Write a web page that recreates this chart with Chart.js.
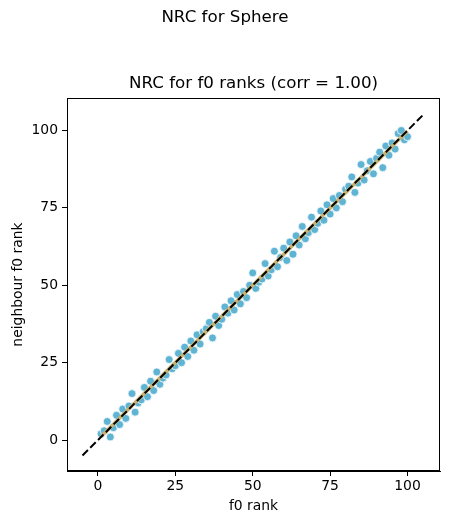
<!DOCTYPE html>
<html>
<head>
<meta charset="utf-8">
<script src="https://cdn.jsdelivr.net/npm/chart.js@4"></script>
<style>
  html, body { margin: 0; padding: 0; background: #fff; }
  #wrap { width: 449px; height: 525px; }
</style>
</head>
<body>
<div id="wrap"><canvas id="chart" width="449" height="525"></canvas></div>
<script>
// f0 rank of each sample and the rank of its neighbour
const f0Rank = Array.from({ length: 100 }, (_, i) => i + 1);
const neighbourRank = [
  2, 3, 6, 1, 4, 8, 5, 10, 7, 11,
  15, 9, 12, 13, 17, 14, 19, 16, 22, 18,
  20, 21, 26, 23, 24, 28, 25, 30, 27, 32,
  29, 34, 31, 35, 36, 38, 33, 40, 37, 39,
  43, 41, 45, 42, 47, 44, 48, 46, 50, 54,
  49, 51, 52, 57, 53, 55, 61, 56, 59, 62,
  58, 64, 60, 66, 63, 69, 65, 67, 72, 68,
  70, 74, 71, 76, 73, 78, 75, 79, 77, 81,
  82, 85, 80, 83, 89, 84, 87, 90, 86, 91,
  93, 88, 95, 92, 96, 94, 99, 100, 97, 98
];
const diagX = [-5, 105];     // dashed y = x reference
const fitX = [1, 100];       // fitted line over data range
const xTicks = [0, 25, 50, 75, 100];
const yTicks = [0, 25, 50, 75, 100];

const points = f0Rank.map((x, i) => ({ x: x, y: neighbourRank[i] }));

// least squares fit
const n = f0Rank.length;
const mx = f0Rank.reduce((a, b) => a + b, 0) / n;
const my = neighbourRank.reduce((a, b) => a + b, 0) / n;
let sxy = 0, sxx = 0;
for (let i = 0; i < n; i++) {
  sxy += (f0Rank[i] - mx) * (neighbourRank[i] - my);
  sxx += (f0Rank[i] - mx) * (f0Rank[i] - mx);
}
const slope = sxy / sxx;
const icpt = my - slope * mx;

const FONT = 'DejaVu Sans';

const textPlugin = {
  id: 'texts',
  afterDraw(chart) {
    const ctx = chart.ctx;
    const a = chart.chartArea;
    ctx.save();
    ctx.strokeStyle = '#000';
    ctx.lineWidth = 1;
    ctx.strokeRect(a.left + 0.5, a.top + 0.5, a.right - a.left - 1, a.bottom - a.top - 1);
    ctx.fillStyle = '#000';
    ctx.textAlign = 'center';
    ctx.textBaseline = 'middle';
    ctx.font = '16.7px ' + FONT;
    ctx.fillText('NRC for Sphere', 225, 18);
    ctx.fillText('NRC for f0 ranks (corr = 1.00)', (a.left + a.right) / 2, 84);
    ctx.font = '13.9px ' + FONT;
    ctx.fillText('f0 rank', (a.left + a.right) / 2, 506);
    ctx.translate(18, (a.top + a.bottom) / 2);
    ctx.rotate(-Math.PI / 2);
    ctx.fillText('neighbour f0 rank', 0, 0);
    ctx.restore();
  }
};

new Chart(document.getElementById('chart'), {
  type: 'scatter',
  data: {
    datasets: [
      {
        type: 'line',
        data: diagX.map(x => ({ x: x, y: x })),
        borderColor: '#000',
        borderWidth: 2,
        borderDash: [7.7, 3.3],
        pointRadius: 0,
        order: 0
      },
      {
        type: 'line',
        data: fitX.map(x => ({ x: x, y: icpt + slope * x })),
        borderColor: '#c9b271',
        borderWidth: 3.5,
        pointRadius: 0,
        order: 1
      },
      {
        data: points,
        backgroundColor: '#5fb4d4',
        borderColor: '#fff',
        borderWidth: 0.8,
        pointRadius: 4,
        order: 2
      }
    ]
  },
  options: {
    responsive: false,
    animation: false,
    layout: { padding: { left: 0, top: 98, right: 9, bottom: 14 } },
    plugins: {
      legend: { display: false },
      tooltip: { enabled: false }
    },
    scales: {
      x: {
        type: 'linear',
        min: -10,
        max: 110.5,
        afterBuildTicks: s => { s.ticks = xTicks.map(v => ({ value: v })); },
        afterFit: s => { s.height = 40; },
        grid: { display: true, drawOnChartArea: false, drawTicks: true, tickLength: 5, color: '#000' },
        border: { display: true, color: '#000', width: 1 },
        ticks: { color: '#000', font: { family: FONT, size: 13.9 }, padding: 2, maxRotation: 0 }
      },
      y: {
        type: 'linear',
        min: -10,
        max: 110.5,
        afterBuildTicks: s => { s.ticks = yTicks.map(v => ({ value: v })); },
        afterFit: s => { s.width = 67; },
        grid: { display: true, drawOnChartArea: false, drawTicks: true, tickLength: 5, color: '#000' },
        border: { display: true, color: '#000', width: 1 },
        ticks: { color: '#000', font: { family: FONT, size: 13.9 }, padding: 4 }
      }
    }
  },
  plugins: [textPlugin]
});
</script>
</body>
</html>
